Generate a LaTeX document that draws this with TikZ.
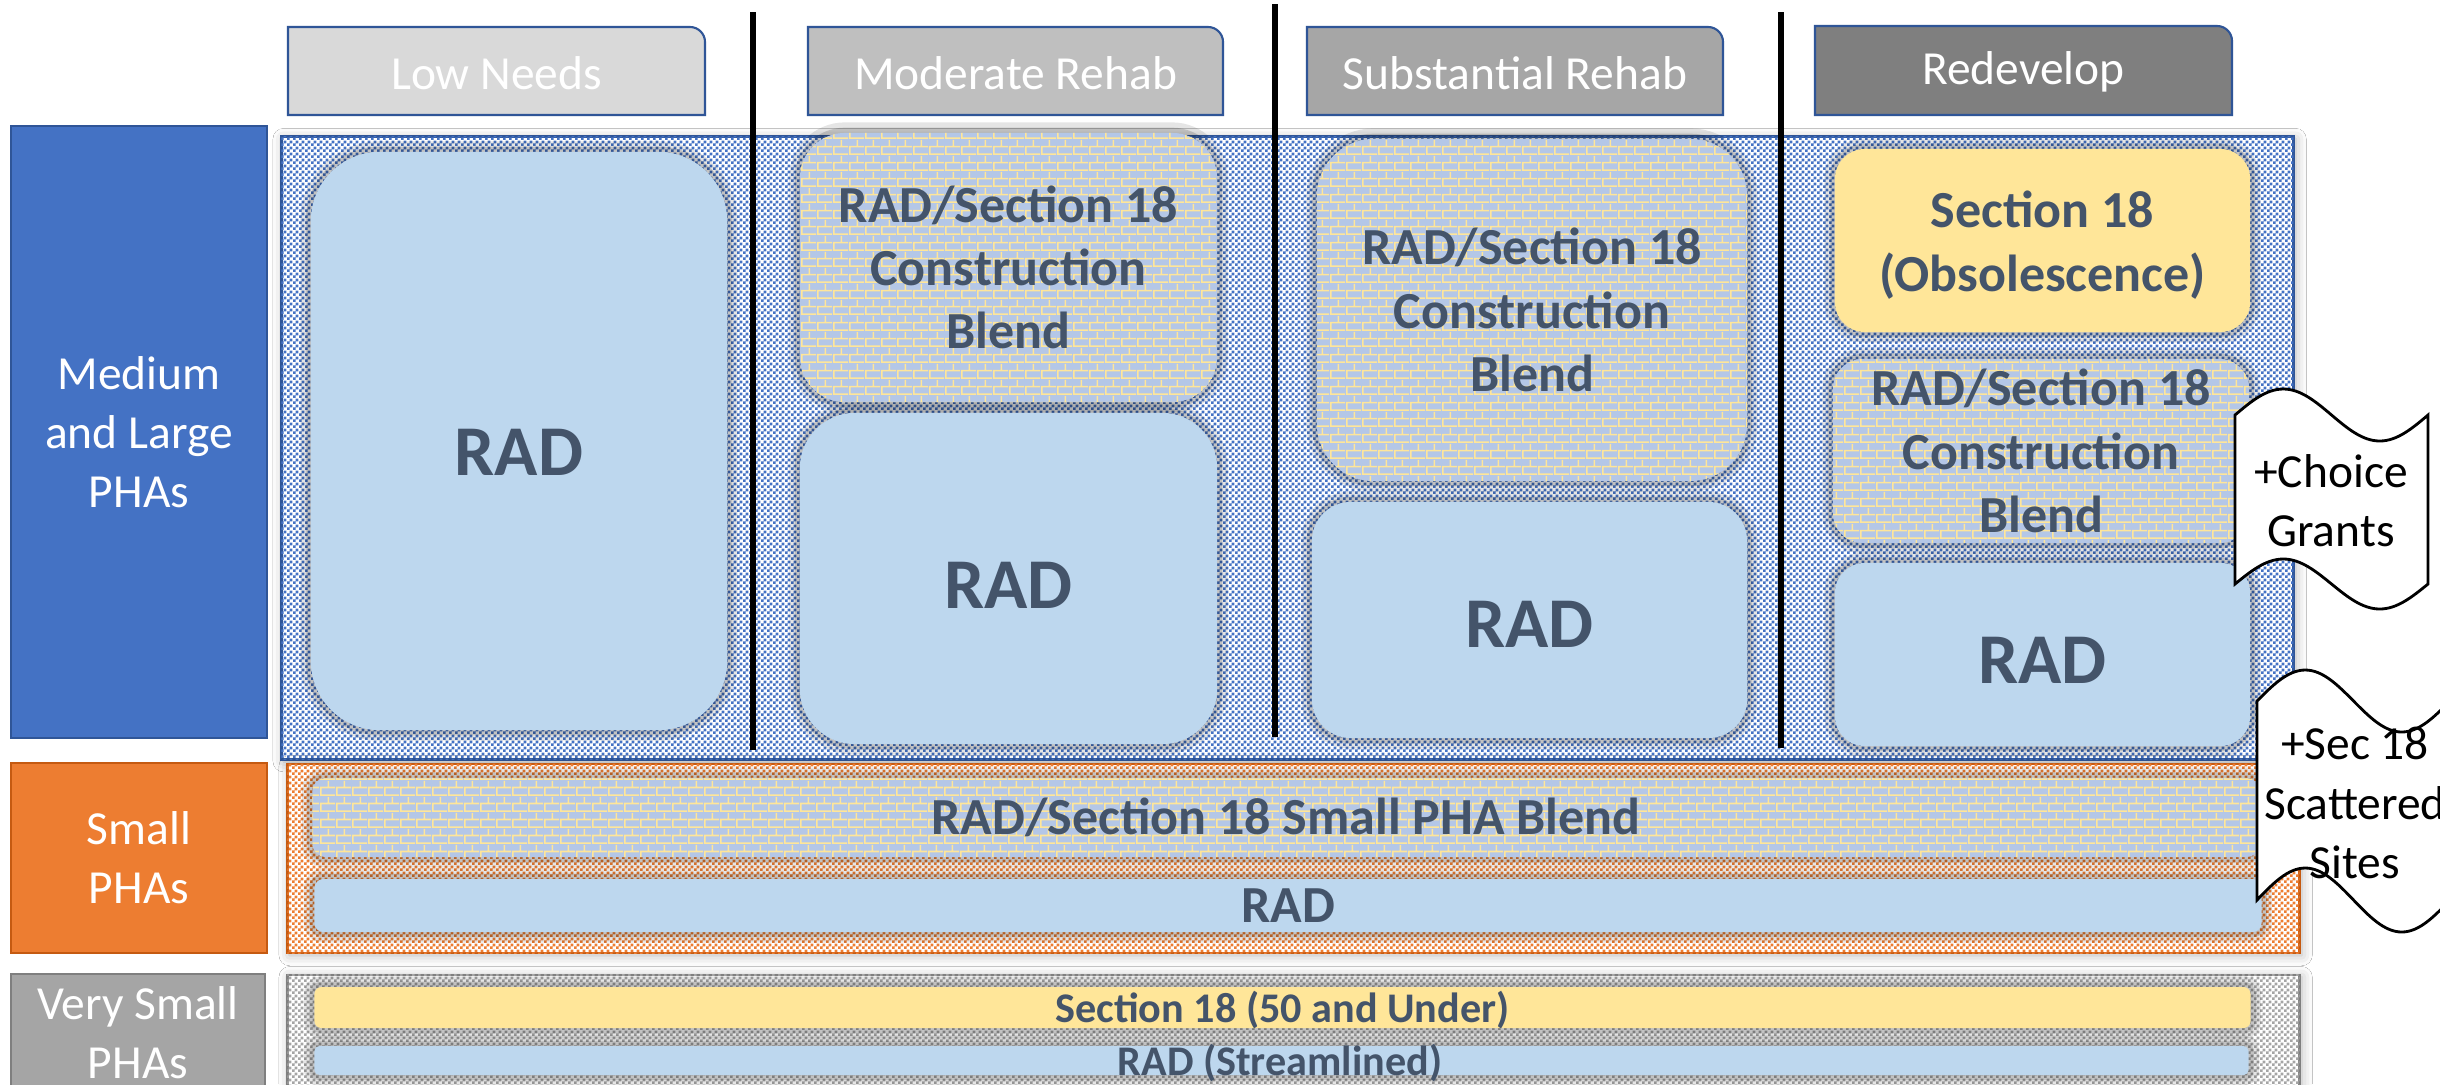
\documentclass[tikz,border=0pt]{standalone}
\usepackage{fontspec}
\setmainfont{Carlito}
\usetikzlibrary{patterns.meta,shadows.blur}

\definecolor{txt}{HTML}{44546A}
\definecolor{radfill}{HTML}{BDD7EE}
\definecolor{brickfill}{HTML}{B4C7E7}
\definecolor{mortar}{HTML}{FFE699}
\definecolor{secfill}{HTML}{FFE699}
\definecolor{pblue}{HTML}{4472C4}
\definecolor{pblueD}{HTML}{2F5597}
\definecolor{porange}{HTML}{ED7D31}
\definecolor{porangeD}{HTML}{C55A11}
\definecolor{pgray}{HTML}{A5A5A5}
\definecolor{pgrayD}{HTML}{7F7F7F}
\definecolor{hA}{HTML}{D9D9D9}
\definecolor{hB}{HTML}{BFBFBF}
\definecolor{hC}{HTML}{A6A6A6}
\definecolor{hD}{HTML}{7F7F7F}

\tikzdeclarepattern{
  name=chk, type=uncolored,
  bounding box={(0pt,0pt) and (1.6pt,1.6pt)},
  tile size={(1.6pt,1.6pt)},
  code={\pgfpathrectangle{\pgfpoint{0pt}{0pt}}{\pgfpoint{0.8pt}{0.8pt}}%
        \pgfpathrectangle{\pgfpoint{0.8pt}{0.8pt}}{\pgfpoint{0.8pt}{0.8pt}}%
        \pgfusepath{fill}}
}
\tikzdeclarepattern{
  name=brk, type=uncolored,
  bounding box={(0pt,0pt) and (4.56pt,4.56pt)},
  tile size={(4.56pt,4.56pt)},
  code={\pgfpathrectangle{\pgfpoint{0pt}{0pt}}{\pgfpoint{4.56pt}{0.5pt}}%
        \pgfpathrectangle{\pgfpoint{0pt}{2.28pt}}{\pgfpoint{4.56pt}{0.5pt}}%
        \pgfpathrectangle{\pgfpoint{0pt}{0.5pt}}{\pgfpoint{0.5pt}{1.78pt}}%
        \pgfpathrectangle{\pgfpoint{2.28pt}{2.78pt}}{\pgfpoint{0.5pt}{1.78pt}}%
        \pgfusepath{fill}}
}

\newcommand\fBig{\fontsize{20.3pt}{24pt}\selectfont}
\newcommand\fMid{\fontsize{14.8pt}{18pt}\selectfont}
\newcommand\fVS{\fontsize{12pt}{14pt}\selectfont}
\newcommand\fLab{\fontsize{13.5pt}{16.8pt}\selectfont}

\begin{document}
\begin{tikzpicture}[x=0.01cm, y=-0.01cm,
  every node/.style={inner sep=0pt, outer sep=0pt},
  halo/.style={preaction={draw=black, draw opacity=0.10, line width=6pt},
               preaction={draw=black, draw opacity=0.15, line width=3pt}},
  radbox/.style={rectangle, halo, fill=radfill, text=txt, align=center},
  brickbox/.style={rectangle, halo, fill=brickfill, postaction={pattern=brk, pattern color=mortar}, text=txt, align=center},
  secbox/.style={rectangle, halo, fill=secfill, text=txt, align=center},
  bigtxt/.style={font=\bfseries\fBig, text=txt},
  midtxt/.style={font=\bfseries\fMid},
  vstxt/.style={font=\bfseries\fVS, text=txt},
  panel/.style={rectangle, fill=white, line width=0.8pt,
     blur shadow={shadow xshift=0.6pt, shadow yshift=-0.6pt, shadow blur radius=3pt, shadow opacity=30}},
  lab/.style={rectangle, line width=0.7pt, text=white, font=\fLab, align=center},
  hdr/.style={draw=pblueD, line width=0.6pt},
  htext/.style={text=white, font=\fLab},
  divider/.style={line width=1.7pt, black},
  wave/.style={draw=black, fill=white, line width=0.8pt},
  wtext/.style={font=\fLab, align=center, text=black}
]
\useasboundingbox (0,0) rectangle (2440,1084);
\fill[white] (0,0) rectangle (2440,1084);

% column headers
\path[hdr, fill=hA] (288,115) -- (288,27) -- (690,27) .. controls (698.3,27) and (705,33.7) .. (705,42) -- (705,115) -- cycle;
\node[htext] (hlow) at (496.5,73) {Low Needs};
\path[hdr, fill=hB] (808,115) -- (808,27) -- (1208,27) .. controls (1216.3,27) and (1223,33.7) .. (1223,42) -- (1223,115) -- cycle;
\node[htext] (hmod) at (1015.5,73) {Moderate Rehab};
\path[hdr, fill=hC] (1307,115) -- (1307,27) -- (1708,27) .. controls (1716.3,27) and (1723,33.7) .. (1723,42) -- (1723,115) -- cycle;
\node[htext] (hsub) at (1515,73) {Substantial Rehab};
\path[hdr, fill=hD] (1815,115) -- (1815,26) -- (2217,26) .. controls (2225.3,26) and (2232,32.7) .. (2232,41) -- (2232,115) -- cycle;
\node[htext] (hred) at (2023.5,72) {Redevelop};

% row labels
\node[lab, fill=pblue, draw=pblueD, minimum width=25.6mm, minimum height=61.2mm] (lml) at (139,432) {Medium\\and Large\\PHAs};
\node[lab, fill=porange, draw=porangeD, minimum width=25.6mm, minimum height=19mm] (lsm) at (139,858) {Small\\PHAs};
\node[lab, fill=pgray, draw=pgrayD, minimum width=25.4mm, minimum height=11.8mm] (lvs) at (138,1033) {Very Small\\PHAs};

% panels
\node[panel, draw=pblueD, postaction={pattern=chk, pattern color=pblue}, minimum width=201.1mm, minimum height=62.2mm] (pml) at (1287.5,448) {};
\node[panel, draw=porangeD, postaction={pattern=chk, pattern color=porange}, minimum width=201.1mm, minimum height=18.9mm] (psm) at (1293.5,858.5) {};
\node[panel, draw=pgrayD, postaction={pattern=chk, pattern color=pgray}, minimum width=201.1mm, minimum height=12.5mm] (pvs) at (1293.5,1037.5) {};

% medium and large boxes (shapes)
\node[radbox, minimum width=41.6mm, minimum height=57.8mm, rounded corners=6.9mm] (lowrad) at (519,441) {};
\node[brickbox, midtxt, minimum width=41.7mm, minimum height=26.9mm, rounded corners=4.5mm] (modblend) at (1008.5,267.5) {RAD/Section 18\\Construction\\Blend};
\node[radbox, minimum width=41.7mm, minimum height=33.1mm, rounded corners=5.5mm] (modrad) at (1008.5,578.5) {};
\node[brickbox, midtxt, minimum width=43mm, minimum height=34.2mm, rounded corners=5.7mm] (subblend) at (1532,310) {RAD/Section 18\\Construction\\Blend};
\node[radbox, minimum width=43.5mm, minimum height=23.6mm, rounded corners=3.9mm] (subrad) at (1529.5,620) {};
\node[secbox, minimum width=41.5mm, minimum height=18.3mm, rounded corners=3mm] (redsec) at (2042.5,240.5) {};
\node[brickbox, midtxt, minimum width=41.6mm, minimum height=18.4mm, rounded corners=3mm] (redblend) at (2041,451) {RAD/Section 18\\Construction\\Blend};
\node[radbox, minimum width=41.5mm, minimum height=18.3mm, rounded corners=3mm] (redrad) at (2042.5,654.5) {};

% texts of those boxes
\node[bigtxt] (lowradtxt) at (519,452) {RAD};
\node[bigtxt] (modradtxt) at (1008.5,585) {RAD};
\node[bigtxt] (subradtxt) at (1529.5,624) {RAD};
\node[bigtxt] (redradtxt) at (2042.5,660) {RAD};
\node[midtxt, text=txt, align=center] (redsectxt) at (2042.5,245) {Section 18\\(Obsolescence)};

% small PHA boxes
\node[brickbox, midtxt, minimum width=194.6mm, minimum height=7.9mm, rounded corners=1.3mm] (smblend) at (1286,817.5) {RAD/Section 18 Small PHA Blend};
\node[radbox, midtxt, minimum width=194.6mm, minimum height=5.3mm, rounded corners=0.9mm] (smrad) at (1288,905.5) {RAD};

% very small PHA boxes
\node[secbox, minimum width=193.5mm, minimum height=4.1mm, rounded corners=0.7mm] (vssec) at (1282.5,1007.5) {};
\node[vstxt] (vssectxt) at (1282.5,1010) {Section 18 (50 and Under)};
\node[radbox, minimum width=193.3mm, minimum height=2.9mm, rounded corners=0.5mm] (vsrad) at (1281.5,1060.5) {};
\node[vstxt] (vsradtxt) at (1280,1063) {RAD (Streamlined)};

% dividers
\coordinate (d1t) at (753,12);  \coordinate (d1b) at (753,750);
\coordinate (d2t) at (1275,4);  \coordinate (d2b) at (1275,737);
\coordinate (d3t) at (1781,12); \coordinate (d3b) at (1781,748);
\draw[divider] (d1t) -- (d1b);
\draw[divider] (d2t) -- (d2b);
\draw[divider] (d3t) -- (d3b);

% wave callouts
\draw[wave] (2235,415) sin (2283.25,389) cos (2331.5,415) sin (2379.75,441) cos (2428,415)
  -- (2428,584) sin (2379.75,609) cos (2331.5,584) sin (2283.25,559) cos (2235,584) -- cycle;
\node[wtext] (choice) at (2331,501) {+Choice\\Grants};
\draw[wave] (2257,701) sin (2305.25,670) cos (2353.5,701) sin (2401.75,732) cos (2450,701)
  -- (2450,900) sin (2401.75,932) cos (2353.5,900) sin (2305.25,868) cos (2257,900) -- cycle;
\node[wtext] (scattered) at (2355,803) {+Sec 18\\Scattered\\Sites};
\end{tikzpicture}
\end{document}
